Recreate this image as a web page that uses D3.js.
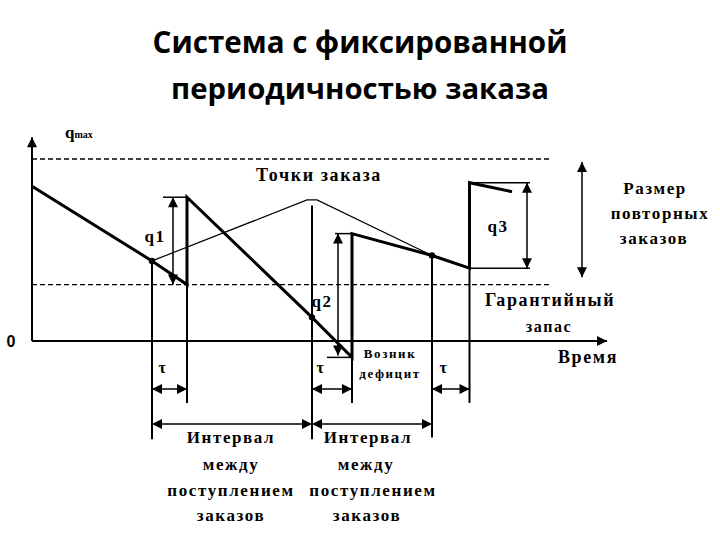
<!DOCTYPE html>
<html>
<head>
    <meta charset="utf-8">
    <script src="https://d3js.org/d3.v7.min.js"></script>
    <style>
        body { margin: 0; background: #fff; }
    </style>
</head>
<body>
<script>
    // Запасы: время (усл. ед.) и уровень запаса (% от qmax)
    var stockT = [0, 24, 31, 31, 56, 64, 64, 80, 87.5, 87.5, 96];
    var stockQ = [85, 44, 31, 79, 13, -9, 59, 47, 40, 87, 82];

    // Точки заказа и поступления заказов
    var orderT = [24, 56, 80];
    var orderQ = [44, 13, 47];
    var arriveT = [31, 64, 87.5];
    var apex = {t: 56, q: 77.5};

    var qMax = 100, safety = 31;

    var width = 720, height = 540;
    var serif = "'Liberation Serif', 'DejaVu Serif', serif";
    var x = d3.scaleLinear().domain([0, 115]).range([32, 607]);
    var y = d3.scaleLinear().domain([0, 100]).range([341, 159]);

    var svg = d3.select("body").append("svg")
        .attr("width", width)
        .attr("height", height);

    // Стрелки
    var defs = svg.append("defs");
    defs.append("marker")
        .attr("id", "arr")
        .attr("viewBox", "0 0 10 10")
        .attr("refX", 10).attr("refY", 5)
        .attr("markerWidth", 11).attr("markerHeight", 10)
        .attr("markerUnits", "userSpaceOnUse")
        .attr("orient", "auto-start-reverse")
      .append("path")
        .attr("d", "M0,0L10,5L0,10Z")
        .attr("fill", "#000");

    // Заголовок
    var title = ["Система с фиксированной", "периодичностью заказа"];
    var titleW = [415, 378];
    svg.selectAll(".title").data(title).enter().append("text")
        .attr("x", 360)
        .attr("y", function(d, i) { return 53 + i * 46; })
        .attr("text-anchor", "middle")
        .style("font-family", "'Open Sans', 'Noto Sans', sans-serif")
        .style("font-weight", "bold")
        .style("font-size", "28px")
        .text(function(d) { return d; })
        .each(function(d, i) {
            var w = this.getComputedTextLength();
            d3.select(this).style("font-size", (28 * titleW[i] / w) + "px");
        });

    function line(t1, q1, t2, q2, w) {
        return svg.append("line")
            .attr("x1", x(t1)).attr("y1", y(q1))
            .attr("x2", x(t2)).attr("y2", y(q2))
            .attr("stroke", "#000")
            .attr("stroke-width", w);
    }

    // Штриховые уровни
    [qMax, safety].forEach(function(q) {
        line(0, q, 103.6, q, 1.3).attr("stroke-dasharray", "5,3");
    });

    // Оси
    line(0, 0, 0, 112, 2).attr("marker-end", "url(#arr)");
    line(0, 0, 115, 0, 2).attr("marker-end", "url(#arr)");

    // Вертикальные линии
    orderT.forEach(function(t, i) {
        var top = i == 1 ? 74.5 : orderQ[i];
        line(t, top, t, i == 2 ? -53 : -54, 2);
    });
    arriveT.forEach(function(t, i) {
        var lowQ = [31, -9, 40][i];
        line(t, lowQ, t, -34, 2);
    });

    // Линия точек заказа
    var thin = d3.line().x(function(d) { return x(d[0]); }).y(function(d) { return y(d[1]); });
    svg.append("path")
        .attr("d", thin([[orderT[0], orderQ[0]], [apex.t - 1, apex.q], [apex.t + 1, apex.q], [orderT[2], orderQ[2]]]))
        .attr("fill", "none").attr("stroke", "#000").attr("stroke-width", 1.2);

    // Уровень запаса
    svg.append("path")
        .datum(d3.zip(stockT, stockQ))
        .attr("d", thin)
        .attr("fill", "none")
        .attr("stroke", "#000")
        .attr("stroke-width", 3);

    svg.selectAll(".dot").data(d3.zip(orderT, orderQ)).enter().append("circle")
        .attr("cx", function(d) { return x(d[0]); })
        .attr("cy", function(d) { return y(d[1]); })
        .attr("r", 3.2);

    // Размеры заказов q1, q2, q3
    line(26.2, 79, 31, 79, 1.5);
    line(28.2, 79, 28.2, 31, 1.5).attr("marker-start", "url(#arr)").attr("marker-end", "url(#arr)");
    line(60.6, 59, 64, 59, 1.5);
    line(59, -9, 64, -9, 1.5);
    line(61.2, 59, 61.2, -8, 1.5).attr("marker-start", "url(#arr)").attr("marker-end", "url(#arr)");
    line(87.5, 87, 99.6, 87, 1.5);
    line(87.5, 40, 99.6, 40, 1.5);
    line(99, 87, 99, 40, 1.5).attr("marker-start", "url(#arr)").attr("marker-end", "url(#arr)");
    line(110, 98.4, 110, 35, 1.5).attr("marker-start", "url(#arr)").attr("marker-end", "url(#arr)");

    // Интервалы tau и между поступлениями
    orderT.forEach(function(t, i) {
        line(t, -26.4, arriveT[i], -26.4, 1.5).attr("marker-start", "url(#arr)").attr("marker-end", "url(#arr)");
    });
    line(orderT[0], -45.6, orderT[1], -45.6, 1.5).attr("marker-start", "url(#arr)").attr("marker-end", "url(#arr)");
    line(orderT[1], -45.6, orderT[2], -45.6, 1.5).attr("marker-start", "url(#arr)").attr("marker-end", "url(#arr)");

    // Подписи
    var labels = [
        {t: "Точки заказа", x: 319, y: 175, s: 18},
        {t: "q1", x: 155, y: 236, s: 17},
        {t: "q2", x: 322, y: 301, s: 17},
        {t: "q3", x: 498, y: 226, s: 17},
        {t: "Размер", x: 655, y: 188, s: 17},
        {t: "повторных", x: 660, y: 213, s: 17},
        {t: "заказов", x: 654, y: 238, s: 17},
        {t: "Гарантийный", x: 550, y: 300, s: 18},
        {t: "запас", x: 549, y: 326, s: 16},
        {t: "Время", x: 588, y: 357, s: 18},
        {t: "Возник", x: 390, y: 353, s: 13},
        {t: "дефицит", x: 390, y: 373, s: 13},
        {t: "τ", x: 163, y: 367, s: 16},
        {t: "τ", x: 321, y: 367, s: 16},
        {t: "τ", x: 444, y: 367, s: 16},
        {t: "Интервал", x: 231, y: 437, s: 17},
        {t: "между", x: 231, y: 464, s: 17},
        {t: "поступлением", x: 231, y: 490, s: 17},
        {t: "заказов", x: 231, y: 515, s: 17},
        {t: "Интервал", x: 368, y: 437, s: 17},
        {t: "между", x: 366, y: 464, s: 17},
        {t: "поступлением", x: 373, y: 490, s: 17},
        {t: "заказов", x: 367, y: 515, s: 17}
    ];
    svg.selectAll(".lbl").data(labels).enter().append("text")
        .attr("class", "lbl")
        .attr("x", function(d) { return d.x; })
        .attr("y", function(d) { return d.y; })
        .attr("dy", "0.35em")
        .attr("text-anchor", "middle")
        .style("font-family", serif)
        .style("font-weight", "bold")
        .style("font-size", function(d) { return d.s + "px"; })
        .style("letter-spacing", "1.6px")
        .text(function(d) { return d.t; });

    // q max и 0
    var qm = svg.append("text").attr("x", 65).attr("y", 138)
        .style("font-family", serif)
        .style("font-weight", "bold")
        .style("font-size", "17px");
    qm.append("tspan").text("q");
    qm.append("tspan").style("font-size", "10px").text("max");

    svg.append("text")
        .attr("x", 11).attr("y", 341).attr("dy", "0.35em")
        .attr("text-anchor", "middle")
        .style("font-family", "'Liberation Sans', Arial, sans-serif")
        .style("font-weight", "bold")
        .style("font-size", "16px")
        .text("0");
</script>
</body>
</html>
